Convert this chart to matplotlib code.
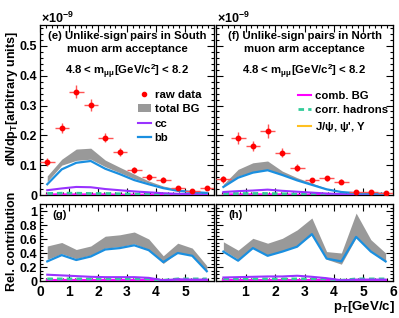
import matplotlib
matplotlib.use("Agg")
import matplotlib.pyplot as plt
from matplotlib.ticker import MultipleLocator, FixedLocator
from matplotlib.lines import Line2D
from matplotlib.patches import Patch

plt.rcParams['font.family'] = ['Liberation Sans', 'DejaVu Sans']
plt.rcParams['font.weight'] = 'bold'
plt.rcParams['mathtext.fontset'] = 'custom'
plt.rcParams['mathtext.rm'] = 'Liberation Sans:bold'
plt.rcParams['mathtext.it'] = 'Liberation Sans:bold'
plt.rcParams['mathtext.bf'] = 'Liberation Sans:bold'

pt = [0.25, 0.75, 1.25, 1.75, 2.25, 2.75, 3.25, 3.75, 4.25, 4.75, 5.25, 5.75]
pt_err = [0.25] * 12

# South (e)
s_raw = [0.110, 0.226, 0.347, 0.302, 0.192, 0.144, 0.084, 0.060, 0.051, 0.025, 0.014, 0.025]
s_raw_err = [0.013, 0.017, 0.022, 0.020, 0.015, 0.013, 0.010, 0.009, 0.009, 0.006, 0.005, 0.006]
s_bg_hi = [0.064, 0.120, 0.154, 0.157, 0.117, 0.093, 0.070, 0.047, 0.030, 0.020, 0.013, 0.010]
s_bg_lo = [0.045, 0.100, 0.116, 0.120, 0.095, 0.075, 0.055, 0.040, 0.027, 0.017, 0.011, 0.008]
s_bb = [0.036, 0.086, 0.108, 0.114, 0.088, 0.070, 0.050, 0.036, 0.023, 0.014, 0.010, 0.007]
s_cc = [0.016, 0.022, 0.027, 0.026, 0.020, 0.016, 0.012, 0.009, 0.006, 0.004, 0.003, 0.002]
s_corr = [0.005, 0.006, 0.006, 0.005, 0.005, 0.004, 0.003, 0.002, 0.002, 0.001, 0.001, 0.001]
s_comb = [0.002, 0.002, 0.002, 0.002, 0.002, 0.001, 0.001, 0.001, 0.001, 0.001, 0.001, 0.001]
s_jpsi = [0.0005] * 12

# North (f)
n_raw = [0.053, 0.190, 0.164, 0.215, 0.142, 0.092, 0.049, 0.056, 0.045, 0.010, 0.010, 0.006]
n_raw_err = [0.012, 0.020, 0.017, 0.023, 0.016, 0.012, 0.009, 0.009, 0.008, 0.005, 0.005, 0.004]
n_bg_hi = [0.036, 0.086, 0.108, 0.114, 0.080, 0.058, 0.040, 0.022, 0.012, 0.007, 0.006, 0.005]
n_bg_lo = [0.029, 0.063, 0.078, 0.086, 0.069, 0.051, 0.036, 0.020, 0.011, 0.006, 0.005, 0.004]
n_bb = [0.027, 0.058, 0.075, 0.083, 0.067, 0.049, 0.034, 0.019, 0.010, 0.006, 0.005, 0.004]
n_cc = [0.010, 0.013, 0.015, 0.018, 0.014, 0.011, 0.008, 0.005, 0.003, 0.002, 0.002, 0.002]
n_corr = [0.004, 0.005, 0.005, 0.005, 0.004, 0.003, 0.002, 0.002, 0.001, 0.001, 0.001, 0.001]
n_comb = [0.002, 0.002, 0.002, 0.002, 0.002, 0.001, 0.001, 0.001, 0.001, 0.001, 0.001, 0.001]
n_jpsi = [0.0005] * 12

# Relative contributions South (g)
g_bg_hi = [0.50, 0.55, 0.45, 0.50, 0.64, 0.66, 0.70, 0.60, 0.36, 0.54, 0.47, 0.22]
g_bg_lo = [0.31, 0.39, 0.32, 0.37, 0.47, 0.49, 0.53, 0.45, 0.25, 0.41, 0.37, 0.13]
g_bb = [0.28, 0.37, 0.30, 0.35, 0.45, 0.47, 0.51, 0.44, 0.27, 0.40, 0.36, 0.14]
g_cc = [0.09, 0.08, 0.07, 0.06, 0.055, 0.055, 0.055, 0.045, 0.01, 0.025, 0.02, 0.02]
g_corr = [0.03, 0.03, 0.03, 0.03, 0.03, 0.03, 0.03, 0.03, 0.01, 0.03, 0.03, 0.03]
g_comb = [0.01] * 12
g_jpsi = [0.003] * 12

# Relative contributions North (h)
h_bg_hi = [0.56, 0.44, 0.61, 0.54, 0.61, 0.73, 0.90, 0.42, 0.40, 0.97, 0.59, 0.40]
h_bg_lo = [0.44, 0.31, 0.47, 0.37, 0.43, 0.50, 0.66, 0.31, 0.24, 0.62, 0.42, 0.27]
h_bb = [0.42, 0.29, 0.47, 0.36, 0.42, 0.49, 0.67, 0.32, 0.28, 0.63, 0.42, 0.28]
h_cc = [0.05, 0.055, 0.06, 0.065, 0.065, 0.075, 0.06, 0.04, 0.01, 0.02, 0.02, 0.02]
h_corr = [0.03, 0.03, 0.03, 0.03, 0.03, 0.03, 0.03, 0.03, 0.01, 0.03, 0.03, 0.03]
h_comb = [0.015] * 12
h_jpsi = [0.003] * 12

C_RAW = '#ff0000'
C_BG = '#999999'
C_CC = '#9933ff'
C_BB = '#1a8fe0'
C_COMB = '#ff00ff'
C_CORR = '#33cc99'
C_JPSI = '#ffc020'

W, H = 399, 318
fig = plt.figure(figsize=(W / 100, H / 100), dpi=100)

def ax_at(x0, y0, x1, y1):
    return fig.add_axes([x0 / W, 1 - y1 / H, (x1 - x0) / W, (y1 - y0) / H])

ax_e = ax_at(40, 25, 214, 195)
ax_f = ax_at(216, 25, 393, 195)
ax_g = ax_at(40, 204, 214, 281)
ax_h = ax_at(216, 204, 393, 281)

def style(ax, top):
    ax.set_xlim(0, 6)
    ax.xaxis.set_major_locator(MultipleLocator(1))
    ax.xaxis.set_minor_locator(MultipleLocator(0.2))
    if top:
        ax.set_ylim(0, 0.57)
        ax.yaxis.set_major_locator(MultipleLocator(0.1))
        ax.yaxis.set_minor_locator(MultipleLocator(0.02))
    else:
        ax.set_ylim(0, 1.1)
        ax.yaxis.set_major_locator(MultipleLocator(0.2))
        ax.yaxis.set_minor_locator(MultipleLocator(0.05))
    ax.tick_params(which='both', direction='in', top=True, right=True,
                   labelsize=9, width=0.8, pad=2)
    ax.tick_params(which='major', length=5)
    ax.tick_params(which='minor', length=2.5)
    for s in ax.spines.values():
        s.set_linewidth(0.9)

def draw_main(ax, raw, err, hi, lo, bb, cc, corr, comb, jpsi):
    ax.fill_between(pt, lo, hi, color=C_BG, lw=0, zorder=1)
    ax.plot(pt, jpsi, color=C_JPSI, lw=1.5, zorder=2)
    ax.plot(pt, comb, color=C_COMB, lw=1.5, zorder=3)
    ax.plot(pt, corr, color=C_CORR, lw=2, ls=(0, (2, 1.5)), zorder=4)
    ax.plot(pt, cc, color=C_CC, lw=1.5, zorder=4)
    ax.plot(pt, bb, color=C_BB, lw=1.6, zorder=5)
    if raw is not None:
        ax.errorbar(pt, raw, xerr=pt_err, yerr=err, fmt='o', color=C_RAW,
                    ms=3.2, elinewidth=1.0, ecolor='#ff5555', capsize=0, zorder=6)

for ax, top in [(ax_e, True), (ax_f, True), (ax_g, False), (ax_h, False)]:
    style(ax, top)

draw_main(ax_e, s_raw, s_raw_err, s_bg_hi, s_bg_lo, s_bb, s_cc, s_corr, s_comb, s_jpsi)
draw_main(ax_f, n_raw, n_raw_err, n_bg_hi, n_bg_lo, n_bb, n_cc, n_corr, n_comb, n_jpsi)
draw_main(ax_g, None, None, g_bg_hi, g_bg_lo, g_bb, g_cc, g_corr, g_comb, g_jpsi)
draw_main(ax_h, None, None, h_bg_hi, h_bg_lo, h_bb, h_cc, h_corr, h_comb, h_jpsi)

# tick labels
ax_e.set_xticklabels([])
ax_f.set_xticklabels([])
for ax in (ax_e, ax_f):
    ax.yaxis.set_major_locator(FixedLocator([0, 0.1, 0.2, 0.3, 0.4, 0.5]))
ax_e.set_yticklabels(['0', '0.1', '0.2', '0.3', '0.4', '0.5'])
ax_f.set_yticklabels([])
for ax in (ax_g, ax_h):
    ax.yaxis.set_major_locator(FixedLocator([0, 0.2, 0.4, 0.6, 0.8, 1.0]))
    ax.xaxis.set_major_locator(FixedLocator([0, 1, 2, 3, 4, 5, 6]))
ax_g.set_yticklabels(['0', '0.2', '0.4', '0.6', '0.8', '1'])
ax_h.set_yticklabels([])
ax_g.set_xticklabels(['0', '1', '2', '3', '4', '5', ''])
ax_h.set_xticklabels(['', '1', '2', '3', '4', '5', '6'])
for ax in (ax_g, ax_h):
    ax.tick_params(axis='x', labelsize=10, pad=3)

# exponent labels
fig.text(41 / W, 1 - 18 / H, r'$\times$10$^{-9}$', fontsize=9, va='center', ha='left')
fig.text(217 / W, 1 - 18 / H, r'$\times$10$^{-9}$', fontsize=9, va='center', ha='left')

# panel texts
for ax, lbl in [(ax_e, '(e) Unlike-sign pairs in South'), (ax_f, '(f) Unlike-sign pairs in North')]:
    ax.text(0.5, 0.937, lbl, transform=ax.transAxes, ha='center', va='center', fontsize=8.2)
    ax.text(0.5, 0.86, 'muon arm acceptance', transform=ax.transAxes, ha='center', va='center', fontsize=8.2)
    ax.text(0.5, 0.725, r'4.8 < m$_{\mu\mu}$[GeV/c$^2$] < 8.2', transform=ax.transAxes,
            ha='center', va='center', fontsize=8.2)

ax_g.text(0.07, 0.86, '(g)', transform=ax_g.transAxes, ha='left', va='center', fontsize=8.2)
ax_h.text(0.07, 0.86, '(h)', transform=ax_h.transAxes, ha='left', va='center', fontsize=8.2)

# legends
h_raw = Line2D([], [], marker='o', color=C_RAW, ls='none', ms=3.0)
h_bg = Patch(facecolor=C_BG, edgecolor='none')
h_cc = Line2D([], [], color=C_CC, lw=1.5)
h_bb = Line2D([], [], color=C_BB, lw=1.6)
ax_e.legend([h_raw, h_bg, h_cc, h_bb], ['raw data', 'total BG', 'cc', 'bb'],
            loc='upper left', bbox_to_anchor=((138 - 40) / 174, (195 - 90) / 170),
            frameon=False, fontsize=8.2, handlelength=1.1, handletextpad=0.35,
            labelspacing=0.38, borderpad=0, borderaxespad=0)

h_comb = Line2D([], [], color=C_COMB, lw=1.5)
h_corr = Line2D([], [], color=C_CORR, lw=2, ls=(0, (2, 1.5)))
h_jpsi = Line2D([], [], color=C_JPSI, lw=1.5)
ax_f.legend([h_comb, h_corr, h_jpsi],
            ['comb. BG', 'corr. hadrons', r"J/$\psi$, $\psi$', $\Upsilon$"],
            loc='upper left', bbox_to_anchor=((298 - 216) / 177, (195 - 91) / 170),
            frameon=False, fontsize=8.2, handlelength=1.1, handletextpad=0.35,
            labelspacing=0.38, borderpad=0, borderaxespad=0)

# axis titles
fig.text(12 / W, 1 - 99 / H, r'dN/dp$_{\rm T}$[arbitrary units]', rotation=90,
         ha='center', va='center', fontsize=9)
fig.text(12 / W, 1 - 241 / H, 'Rel. contribution', rotation=90,
         ha='center', va='center', fontsize=9)
fig.text(395 / W, 1 - 307 / H, r'p$_{\rm T}$[GeV/c]', ha='right', va='center', fontsize=9.5)

fig.savefig('out.png', dpi=100)
